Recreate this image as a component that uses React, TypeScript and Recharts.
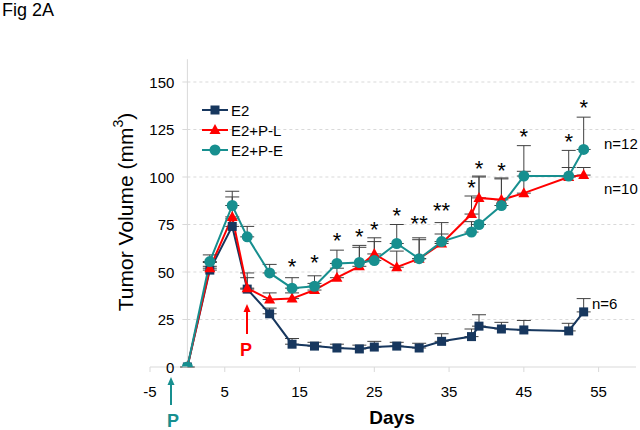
import React from 'react';
import {
  ComposedChart,
  Line,
  Scatter,
  XAxis,
  YAxis,
  ErrorBar,
  ReferenceLine,
} from 'recharts';

const FONT = '"Liberation Sans", Arial, sans-serif';
const NAVY = '#17375E';
const RED = '#FF0000';
const TEAL = '#178F8F';
const ERR = '#404040';
const AXIS = '#D9D9D9';

// measurement days shared by all groups
const days = [0, 3, 6, 8, 11, 14, 17, 20, 23, 25, 28, 31, 34, 38, 39, 42, 45, 51, 53];

const e2 = [0, 51, 74, 41, 28, 12, 11, 10, 9.5, 10.5, 11, 10, 13.5, 16, 21.5, 20, 19.5, 19, 29];
const e2Err = [0, 2, 4, 6, 3, 3, 2, 2, 2, 3, 2, 2.5, 4, 4, 6, 3.5, 5, 4, 7];

const pl = [0, 52, 79, 41.5, 35.5, 36, 40.5, 47, 53, 59.5, 52.5, 57, 65, 80.5, 89, 88, 91.5, 100, 101];
const plErr = [0, 3, 10.5, 8, 3.5, 3, 3.5, 5, 10, 8.5, 8.5, 10, 5, 9.5, 11, 11, 11.5, 5, 4];

const pe = [0, 55.5, 85, 68.5, 49.5, 41.5, 42.5, 54.5, 55, 56, 65, 57, 66, 71, 75, 85, 100.5, 100.5, 114.5];
const peErr = [0, 3.5, 7.5, 5.5, 4.5, 5.5, 5.5, 7, 9, 10, 10, 11, 10, 5.5, 25.5, 14.5, 16, 13.5, 17];

// significance marks
const starDays = [14, 17, 20, 23, 25, 28, 31, 34, 38, 39, 42, 45, 51, 53];
const starY = [55.5, 57.5, 69, 71, 75, 82, 78, 85, 97, 107, 106, 123.5, 121, 139];
const starText = ['*', '*', '*', '*', '*', '*', '**', '**', '*', '*', '*', '*', '*', '*'];

const xTicks = [-5, 5, 15, 25, 35, 45, 55];
const yTicks = [0, 25, 50, 75, 100, 125, 150];

const data = days.map((d, i) => ({
  day: d,
  e2: e2[i],
  e2Err: [0, e2Err[i]],
  pl: pl[i],
  plErr: [0, plErr[i]],
  pe: pe[i],
  peErr: [0, peErr[i]],
}));

const stars = starDays.map((d, i) => ({ day: d, y: starY[i], label: starText[i] }));

// layout
const W = 640;
const H = 430;
const LEFT = 150;
const YW = 30;
const RIGHT = 4;
const TOP = 82;
const BOTTOM = 33;
const XH = 30;
const X_MIN = -5;
const X_MAX = 60;
const pxPerDay = (W - LEFT - RIGHT) / (X_MAX - X_MIN);
const AXIS_X = LEFT + (0 - X_MIN) * pxPerDay;

const YTick = (props: any) => {
  const { y, payload } = props;
  return (
    <g>
      <line x1={AXIS_X - 5} x2={AXIS_X} y1={y} y2={y} stroke={AXIS} />
      <text x={AXIS_X - 13} y={y} textAnchor="end" dominantBaseline="central" fontSize={15} fill="#000" fontFamily={FONT}>
        {payload.value}
      </text>
    </g>
  );
};

const square = (props: any) => {
  const { cx, cy, index } = props;
  return <rect key={`sq-${index}`} x={cx - 4.5} y={cy - 4.5} width={9} height={9} fill={NAVY} />;
};

const triangle = (props: any) => {
  const { cx, cy, index } = props;
  return (
    <polygon
      key={`tr-${index}`}
      points={`${cx},${cy - 6} ${cx - 5.5},${cy + 4} ${cx + 5.5},${cy + 4}`}
      fill={RED}
    />
  );
};

const circle = (props: any) => {
  const { cx, cy, index } = props;
  return <circle key={`ci-${index}`} cx={cx} cy={cy} r={5.5} fill={TEAL} />;
};

const StarShape = (props: any) => {
  const { cx, cy, payload } = props;
  return (
    <text x={cx} y={cy + 12} textAnchor="middle" fontSize={22} fill="#000" fontFamily={FONT}>
      {payload.label}
    </text>
  );
};

const legendItems = [
  { name: 'E2', color: NAVY, kind: 'sq' },
  { name: 'E2+P-L', color: RED, kind: 'tr' },
  { name: 'E2+P-E', color: TEAL, kind: 'ci' },
];

const App = () => {
  return (
    <div style={{ position: 'absolute', left: 0, top: 0, width: W, height: H, background: '#fff', fontFamily: FONT }}>
      <ComposedChart
        width={W}
        height={H}
        data={data}
        margin={{ top: TOP, right: RIGHT, bottom: BOTTOM, left: LEFT - YW }}
      >
        <XAxis
          dataKey="day"
          type="number"
          domain={[X_MIN, X_MAX]}
          ticks={xTicks}
          height={XH}
          stroke={AXIS}
          tickSize={5}
          tickMargin={14}
          tick={{ fill: '#000', fontSize: 15, fontFamily: FONT }}
          allowDataOverflow
        />
        <YAxis
          type="number"
          domain={[0, 150]}
          ticks={yTicks}
          width={YW}
          axisLine={false}
          tickLine={false}
          tick={YTick}
          interval={0}
          allowDataOverflow
        />
        {yTicks.slice(1).map((t) => (
          <ReferenceLine
            key={t}
            segment={[{ x: 0, y: t }, { x: X_MAX, y: t }]}
            stroke={AXIS}
            strokeDasharray="3 3"
          />
        ))}
        <ReferenceLine
          segment={[{ x: 0, y: 0 }, { x: 0, y: 162 }]}
          stroke={AXIS}
          ifOverflow="visible"
        />
        <Line dataKey="e2" stroke={NAVY} strokeWidth={2} dot={square} isAnimationActive={false}>
          <ErrorBar dataKey="e2Err" width={7} stroke={ERR} strokeWidth={1} direction="y" />
        </Line>
        <Line dataKey="pl" stroke={RED} strokeWidth={2} dot={triangle} isAnimationActive={false}>
          <ErrorBar dataKey="plErr" width={7} stroke={ERR} strokeWidth={1} direction="y" />
        </Line>
        <Line dataKey="pe" stroke={TEAL} strokeWidth={2} dot={circle} isAnimationActive={false}>
          <ErrorBar dataKey="peErr" width={7} stroke={ERR} strokeWidth={1} direction="y" />
        </Line>
        <Scatter data={stars} dataKey="y" shape={StarShape} isAnimationActive={false} />
      </ComposedChart>

      <svg
        width={W}
        height={H}
        style={{ position: 'absolute', left: 0, top: 0, pointerEvents: 'none' }}
        fontFamily={FONT}
      >
        <text x={2} y={16} fontSize={18} fill="#000">Fig 2A</text>

        <text
          transform="translate(125,212) rotate(-90)"
          textAnchor="middle"
          dominantBaseline="central"
          fontSize={21}
          fill="#000"
        >
          Tumor Volume (mm<tspan fontSize={14} dy={-7}>3</tspan><tspan dy={7}>)</tspan>
        </text>

        <text x={392} y={424} textAnchor="middle" fontSize={19} fontWeight="bold" fill="#000">Days</text>

        {legendItems.map((it, i) => {
          const y = 110 + i * 20;
          return (
            <g key={it.name}>
              <line x1={202} x2={228} y1={y} y2={y} stroke={it.color} strokeWidth={2} />
              {it.kind === 'sq' && <rect x={210.5} y={y - 4.5} width={9} height={9} fill={it.color} />}
              {it.kind === 'tr' && (
                <polygon points={`215,${y - 6} 209.5,${y + 4} 220.5,${y + 4}`} fill={it.color} />
              )}
              {it.kind === 'ci' && <circle cx={215} cy={y} r={5.5} fill={it.color} />}
              <text x={231} y={y} dominantBaseline="central" fontSize={15} fill="#000">{it.name}</text>
            </g>
          );
        })}

        <text x={604} y={143} dominantBaseline="central" fontSize={15} fill="#000">n=12</text>
        <text x={604} y={188} dominantBaseline="central" fontSize={15} fill="#000">n=10</text>
        <text x={592} y={303} dominantBaseline="central" fontSize={15} fill="#000">n=6</text>

        {/* red arrow, day 8 */}
        <line x1={247} x2={247} y1={334} y2={310} stroke={RED} strokeWidth={2} />
        <polygon points="247,304 243.5,312 250.5,312" fill={RED} />
        <text x={246} y={356} textAnchor="middle" fontSize={18} fontWeight="bold" fill={RED}>P</text>

        {/* teal arrow below axis */}
        <line x1={171} x2={171} y1={405} y2={383} stroke={TEAL} strokeWidth={2} />
        <polygon points="171,377 167.5,385 174.5,385" fill={TEAL} />
        <text x={173} y={427} textAnchor="middle" fontSize={18} fontWeight="bold" fill={TEAL}>P</text>
      </svg>
    </div>
  );
};

export default App;
